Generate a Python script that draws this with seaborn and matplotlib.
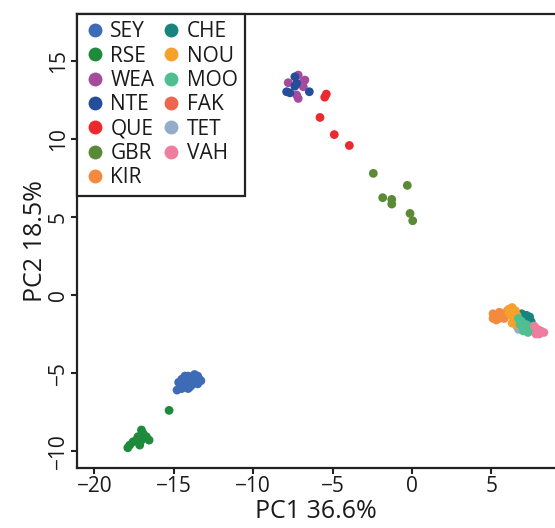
import matplotlib
matplotlib.use("Agg")
import matplotlib.pyplot as plt
from matplotlib.lines import Line2D
import seaborn as sns
import pandas as pd

populations = ["SEY", "RSE", "WEA", "NTE", "QUE", "GBR", "KIR",
               "CHE", "NOU", "MOO", "FAK", "TET", "VAH"]
colors = ["#3d6bb5", "#1e8a3c", "#a54b9e", "#264d9a", "#ea2a2f", "#5a8a35", "#f38a3f",
          "#17857e", "#f5a12c", "#4fbf8f", "#ec6650", "#93acc9", "#ee7ea0"]

sey_x = [-14.7, -14.5, -14.3, -14.1, -13.9, -13.7, -13.5, -13.4, -14.6, -14.4, -14.2, -14.0,
         -13.8, -13.6, -14.8, -14.5, -14.1, -13.9, -13.5, -14.3, -14.0, -13.7, -13.3, -14.6, -14.2]
sey_y = [-5.6, -5.4, -5.2, -5.2, -5.3, -5.1, -5.2, -5.4, -5.8, -5.7, -5.7, -5.5,
         -5.6, -5.5, -6.1, -6.0, -6.0, -5.8, -5.7, -5.4, -5.9, -5.3, -5.5, -5.6, -5.9]
rse_x = [-15.3, -17.78, -17.57, -17.15, -17.36, -17.04, -16.94, -16.73, -16.56, -17.26, -17.04, -17.9]
rse_y = [-7.4, -9.63, -9.42, -9.63, -9.31, -8.66, -8.88, -9.09, -9.31, -9.09, -9.31, -9.8]
wea_x = [-7.80, -7.17, -6.75, -6.85, -7.27, -7.17, -6.96]
wea_y = [13.63, 14.12, 13.80, 13.37, 12.84, 12.62, 13.59]
nte_x = [-7.38, -7.38, -7.69, -7.90, -6.47, -7.27]
nte_y = [14.01, 13.41, 12.98, 13.05, 13.05, 13.59]
que_x = [-5.4, -5.5, -5.8, -4.9, -3.95]
que_y = [12.9, 12.7, 11.4, 10.3, 9.6]
gbr_x = [-2.44, -0.3, -1.85, -1.28, -1.28, -0.13, 0.04]
gbr_y = [7.81, 7.04, 6.25, 6.14, 5.84, 5.24, 4.77]
kir_x = [5.1, 5.1, 5.3, 5.5, 5.5, 5.7, 5.9, 6.0, 5.3, 5.8]
kir_y = [-1.2, -1.5, -1.3, -1.1, -1.5, -1.3, -1.2, -1.0, -1.6, -1.5]
che_x = [6.9, 7.2, 7.4, 7.1, 7.5]
che_y = [-1.2, -1.3, -1.4, -1.6, -1.7]
nou_x = [6.1, 6.3, 6.5, 6.2, 6.4, 6.6, 6.3, 6.6, 6.1]
nou_y = [-0.9, -0.8, -1.0, -1.3, -1.5, -1.3, -1.8, -1.9, -1.1]
tet_x = [6.6, 6.7]
tet_y = [-2.0, -2.2]
moo_x = [6.7, 6.9, 7.0, 7.2, 7.4, 7.6, 7.0, 7.3, 7.6, 6.8]
moo_y = [-1.5, -1.7, -2.0, -1.9, -2.1, -2.0, -2.3, -2.4, -2.3, -1.9]
fak_x = []
fak_y = []
vah_x = [7.7, 7.9, 8.1, 8.3, 7.8, 8.0]
vah_y = [-2.0, -2.2, -2.3, -2.4, -2.5, -2.5]

x_ticks = [-20, -15, -10, -5, 0, 5]
y_ticks = [-10, -5, 0, 5, 10, 15]

draw_order = [("SEY", sey_x, sey_y), ("RSE", rse_x, rse_y), ("WEA", wea_x, wea_y),
              ("NTE", nte_x, nte_y), ("QUE", que_x, que_y), ("GBR", gbr_x, gbr_y),
              ("KIR", kir_x, kir_y), ("CHE", che_x, che_y), ("TET", tet_x, tet_y),
              ("NOU", nou_x, nou_y), ("MOO", moo_x, moo_y), ("FAK", fak_x, fak_y),
              ("VAH", vah_x, vah_y)]
rows = []
for name, xs, ys in draw_order:
    for a, b in zip(xs, ys):
        rows.append({"PC1": a, "PC2": b, "pop": name})
df = pd.DataFrame(rows)

sns.set_style("white")
plt.rcParams["font.family"] = ["Open Sans", "DejaVu Sans"]
txt = "#1a1a1a"

fig = plt.figure(figsize=(5.55, 5.28), dpi=100)
ax = fig.add_axes([77 / 555, 60 / 528, 1 - 77 / 555, (468 - 14) / 528])
palette = dict(zip(populations, colors))
sns.scatterplot(data=df, x="PC1", y="PC2", hue="pop", palette=palette,
                s=40, linewidth=0, edgecolor="none", legend=False, ax=ax)

ax.set_xlim(-21.1, 9.0)
ax.set_ylim(-11.1, 18.04)
ax.set_xticks(x_ticks)
ax.set_yticks(y_ticks)
ax.set_xticklabels([str(t).replace("-", "\u2212") for t in x_ticks])
ax.set_yticklabels([str(t).replace("-", "\u2212") for t in y_ticks], rotation=90, va="center")
ax.tick_params(axis="both", direction="out", length=4, width=1.5, color="#222222",
               labelsize=15, labelcolor=txt, pad=2, bottom=True, left=True)
ax.set_xlabel("PC1 36.6%", fontsize=18, labelpad=1, color=txt)
ax.set_ylabel("PC2 18.5%", fontsize=18, labelpad=0, color=txt)
for side in ["left", "bottom", "top"]:
    ax.spines[side].set_linewidth(1.6)
    ax.spines[side].set_color("#222222")
ax.spines["right"].set_visible(False)

handles = [Line2D([0], [0], marker="o", linestyle="none", markersize=10,
                  markerfacecolor=c, markeredgewidth=0, label=p)
           for p, c in zip(populations, colors)]
leg = ax.legend(handles=handles, ncol=2, loc="upper left", borderaxespad=0,
                frameon=True, fancybox=False, fontsize=15, handletextpad=0.25,
                columnspacing=0.3, labelspacing=0.16, handlelength=1.0,
                borderpad=0.35, labelcolor=txt)
leg.get_frame().set_edgecolor("#222222")
leg.get_frame().set_linewidth(1.6)
leg.get_frame().set_alpha(1)

fig.savefig("out.png", dpi=100)
